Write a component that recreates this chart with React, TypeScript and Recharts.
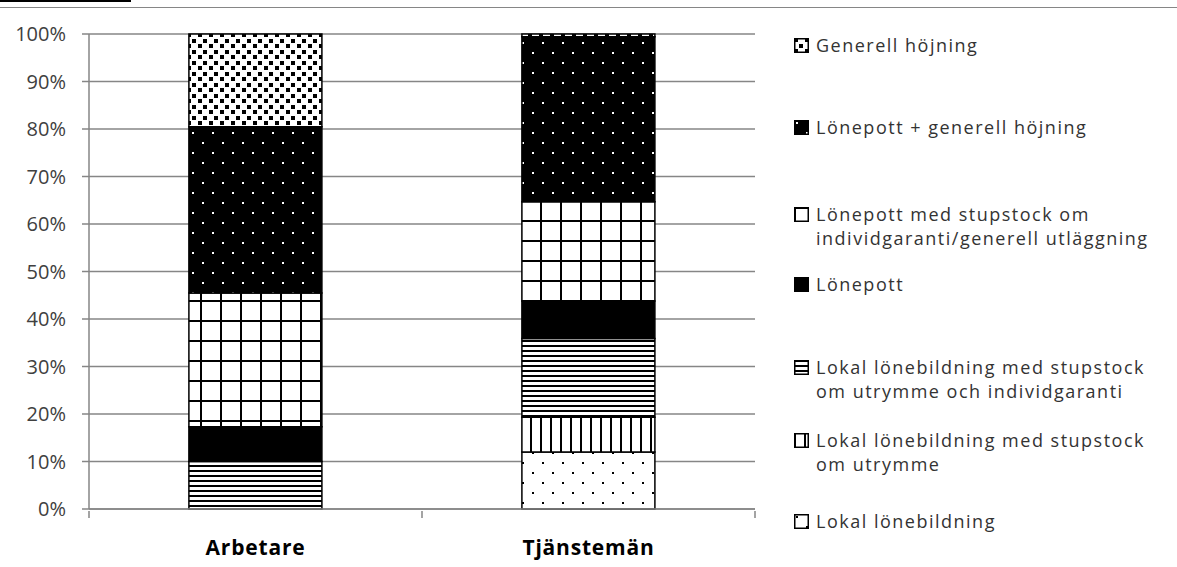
import { BarChart, Bar, XAxis, YAxis, CartesianGrid } from "recharts";

const categories = ["Arbetare", "Tjänstemän"];

// stack order, bottom to top
const seriesNames = [
  "Lokal lönebildning",
  "Lokal lönebildning med stupstock om utrymme",
  "Lokal lönebildning med stupstock om utrymme och individgaranti",
  "Lönepott",
  "Lönepott med stupstock om individgaranti/generell utläggning",
  "Lönepott + generell höjning",
  "Generell höjning",
];
const legendLines = [
  ["Lokal lönebildning"],
  ["Lokal lönebildning med stupstock", "om utrymme"],
  ["Lokal lönebildning med stupstock", "om utrymme och individgaranti"],
  ["Lönepott"],
  ["Lönepott med stupstock om", "individgaranti/generell utläggning"],
  ["Lönepott + generell höjning"],
  ["Generell höjning"],
];
const arbetareValues = [0, 0, 10, 7.3, 28.2, 35, 19.5];
const tjanstemanValues = [12, 7.3, 16.6, 7.9, 20.9, 34.7, 0.6];
const yTicks = [0, 10, 20, 30, 40, 50, 60, 70, 80, 90, 100];

const fills = [
  "url(#p-dots-white)",
  "url(#p-vert)",
  "url(#p-horiz)",
  "#000",
  "url(#p-grid)",
  "url(#p-dots-black)",
  "url(#p-confetti)",
];
// first-line centre of each legend entry, from bottom entry up
const legendTops = [521, 440, 367, 284, 214, 127, 45];

const data = categories.map((name, i) => {
  const row: Record<string, string | number> = { name };
  const vals = i === 0 ? arbetareValues : tjanstemanValues;
  seriesNames.forEach((_, k) => {
    row["s" + k] = vals[k];
  });
  return row;
});

const GRID = "#868686";
const FONT = "'Open Sans', sans-serif";

const XTick = (props: any) => {
  const { x, y, payload, index, visibleTicksCount } = props;
  const half = payload.offset || 166.5;
  return (
    <g>
      <line x1={x - half} x2={x - half} y1={y - 7} y2={y} stroke={GRID} strokeWidth={1.5} />
      {index === visibleTicksCount - 1 && (
        <line x1={x + half} x2={x + half} y1={y - 7} y2={y} stroke={GRID} strokeWidth={1.5} />
      )}
      <text
        x={x}
        y={y + 29}
        textAnchor="middle"
        dominantBaseline="central"
        fontFamily={FONT}
        fontWeight="bold"
        fontSize={21}
        letterSpacing={0.8}
        fill="#000"
      >
        {payload.value}
      </text>
    </g>
  );
};

const App = () => {
  return (
    <div style={{ position: "absolute", left: 0, top: 0, width: 1177, height: 567, background: "#fff", fontFamily: FONT }}>
      <div style={{ position: "absolute", left: 0, top: 0, width: 131, height: 2, background: "#000" }} />
      <div style={{ position: "absolute", left: 0, top: 7, width: 1177, height: 1, background: GRID }} />
      <BarChart
        width={1177}
        height={567}
        data={data}
        margin={{ top: 34, right: 422, bottom: 0, left: 0 }}
        barCategoryGap="30%"
      >
        <defs>
          <pattern id="p-dots-white" width="20" height="20" patternUnits="userSpaceOnUse">
            <rect width="20" height="20" fill="#fff" />
            <rect x="2" y="2" width="2" height="2" fill="#000" />
            <rect x="12" y="12" width="2" height="2" fill="#000" />
          </pattern>
          <pattern id="p-dots-black" width="20" height="20" patternUnits="userSpaceOnUse">
            <rect width="20" height="20" fill="#000" />
            <rect x="2" y="2" width="2" height="2" fill="#fff" />
            <rect x="12" y="12" width="2" height="2" fill="#fff" />
          </pattern>
          <pattern id="p-vert" width="10" height="10" patternUnits="userSpaceOnUse">
            <rect width="10" height="10" fill="#fff" />
            <rect x="0" y="0" width="2" height="10" fill="#000" />
          </pattern>
          <pattern id="p-horiz" width="5" height="5" patternUnits="userSpaceOnUse">
            <rect width="5" height="5" fill="#fff" />
            <rect x="0" y="0" width="5" height="2" fill="#000" />
          </pattern>
          <pattern id="p-grid" width="20" height="20" patternUnits="userSpaceOnUse">
            <rect width="20" height="20" fill="#fff" />
            <rect x="0" y="0" width="2" height="20" fill="#000" />
            <rect x="0" y="0" width="20" height="2" fill="#000" />
          </pattern>
          <pattern id="p-confetti" width="11" height="11" patternUnits="userSpaceOnUse">
            <rect width="11" height="11" fill="#fff" />
            <rect x="0" y="0" width="4" height="4" fill="#000" />
            <rect x="5" y="6" width="4" height="4" fill="#000" />
          </pattern>
        </defs>
        <CartesianGrid vertical={false} stroke={GRID} strokeWidth={1.5} />
        <XAxis
          dataKey="name"
          height={58}
          axisLine={{ stroke: GRID, strokeWidth: 1.5 }}
          tickLine={false}
          tickSize={7}
          tick={<XTick />}
          interval={0}
        />
        <YAxis
          width={89}
          domain={[0, 100]}
          ticks={yTicks}
          tickFormatter={(v: number) => `${v}%`}
          axisLine={{ stroke: GRID, strokeWidth: 1.5 }}
          tickLine={{ stroke: GRID, strokeWidth: 1.5 }}
          tickSize={7}
          tickMargin={16}
          tick={{ fill: "#404040", fontSize: 20, fontFamily: FONT }}
        />
        {seriesNames.map((name, k) => (
          <Bar
            key={name}
            dataKey={"s" + k}
            name={name}
            stackId="a"
            fill={fills[k]}
            stroke="#000"
            strokeWidth={1.5}
            isAnimationActive={false}
          />
        ))}
      </BarChart>
      {seriesNames.map((name, k) => (
        <div
          key={name}
          style={{
            position: "absolute",
            left: 794,
            top: legendTops[k] - 12,
            display: "flex",
            alignItems: "flex-start",
            color: "#333",
            fontSize: 18,
            lineHeight: "24px",
            letterSpacing: 1.5,
          }}
        >
          <svg width={15} height={15} style={{ marginTop: 5, marginRight: 7 }}>
            <rect x={0.75} y={0.75} width={13.5} height={13.5} fill={fills[k]} stroke="#000" strokeWidth={1.5} />
          </svg>
          <div>
            {legendLines[k].map((l) => (
              <div key={l}>{l}</div>
            ))}
          </div>
        </div>
      ))}
    </div>
  );
};

export default App;
